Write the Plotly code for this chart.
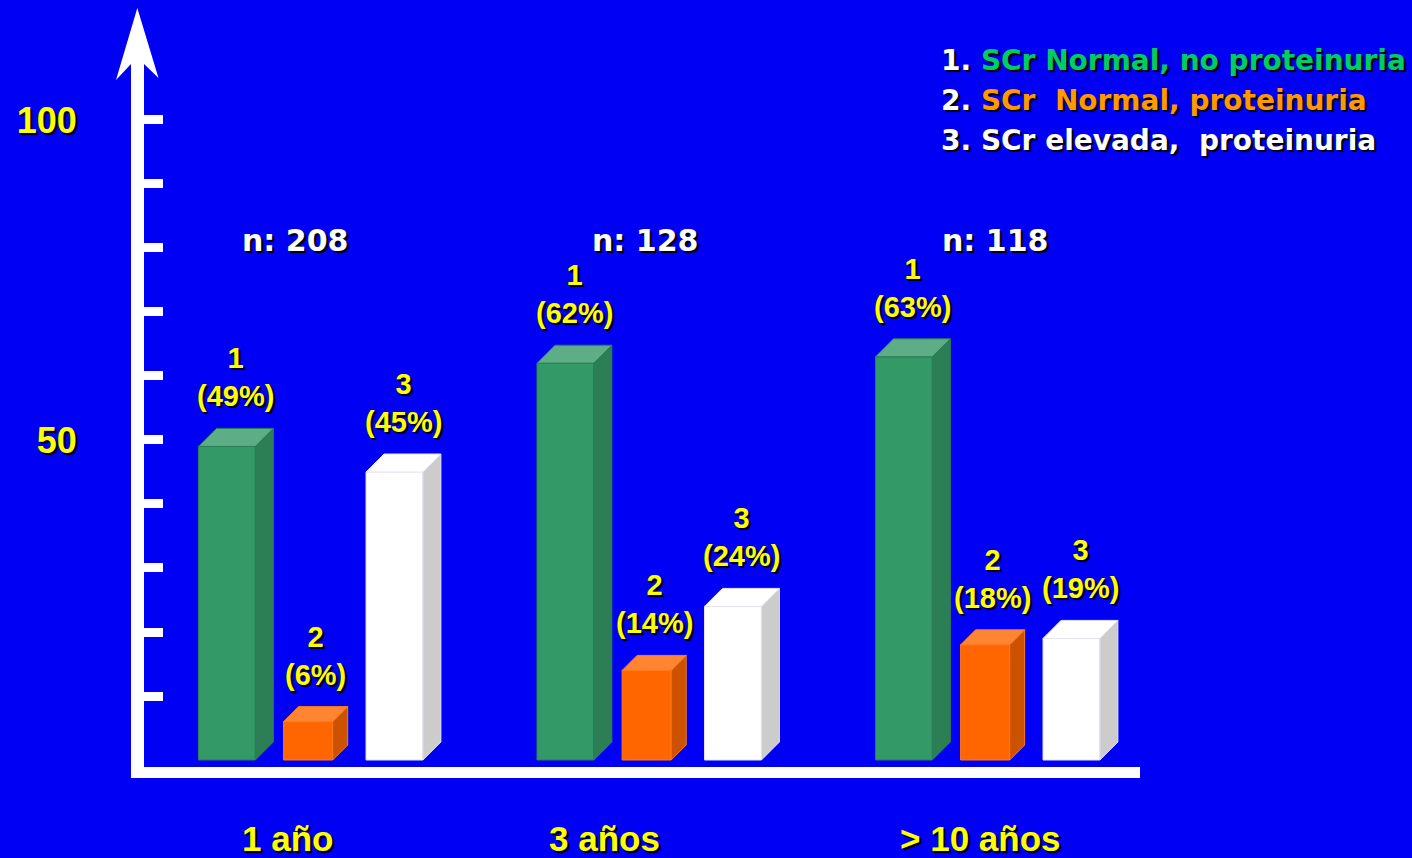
import plotly.graph_objects as go

# ---- data -------------------------------------------------------------
categories = ["1 año", "3 años", "> 10 años"]
n_labels = ["n: 208", "n: 128", "n: 118"]
series_names = [
    "SCr Normal, no proteinuria",
    "SCr  Normal, proteinuria",
    "SCr elevada,  proteinuria",
]
pct_normal_no_prot = [49, 62, 63]
pct_normal_prot = [6, 14, 18]
pct_elevated_prot = [45, 24, 19]
y_tick_vals = [10, 20, 30, 40, 50, 60, 70, 80, 90, 100]
y_tick_text = ["", "", "", "", "50", "", "", "", "", "100"]

# ---- geometry / style -------------------------------------------------
W, H = 1412, 858
M_L, M_R, M_T, M_B = 144, 272, 70, 91
X_RANGE = [0.4851, 3.4275]
Y_RANGE = [-1.094, 107.81]
PLOT_W = W - M_L - M_R
PLOT_H = H - M_T - M_B
PX_X = PLOT_W / (X_RANGE[1] - X_RANGE[0])
PX_Y = PLOT_H / (Y_RANGE[1] - Y_RANGE[0])

BG = "#0000F5"
YELLOW = "#FFFF00"
SHADOW = "2px 2px 1px #000000"
BOLD_WIDE = "DejaVu Sans"
BOLD_ARIAL = "Liberation Sans"

group_x = [1, 2, 3]
series = [
    dict(vals=pct_normal_no_prot, offset=-0.27, width=0.168, depth=18,
         front="#339966", side="#2C7E55", top="#5DAD86", edge="#2A7F52"),
    dict(vals=pct_normal_prot, offset=-0.03, width=0.145, depth=15,
         front="#FF6600", side="#CC5200", top="#FF8533", edge="#FF7A1A"),
    dict(vals=pct_elevated_prot, offset=0.225, width=0.168, depth=18,
         front="#FFFFFF", side="#CCCCCC", top="#FFFFFF", edge="#E4E4F4"),
]


def px_to_paper(px, py):
    return (px - M_L) / PLOT_W, (H - M_B - py) / PLOT_H


fig = go.Figure()
annotations = []

for k, s in enumerate(series, start=1):
    xs = [g + s["offset"] for g in group_x]
    fig.add_trace(go.Bar(
        x=xs, y=s["vals"], width=s["width"], base=0,
        marker=dict(color=s["front"], line=dict(color=s["edge"], width=1)),
        showlegend=False, hoverinfo="skip",
    ))
    dx = s["depth"] / PX_X
    dy = s["depth"] / PX_Y
    side_x, side_y, top_x, top_y = [], [], [], []
    for xc, v in zip(xs, s["vals"]):
        xl, xr = xc - s["width"] / 2, xc + s["width"] / 2
        side_x += [xr, xr + dx, xr + dx, xr, xr, None]
        side_y += [0, dy, v + dy, v, 0, None]
        top_x += [xl, xl + dx, xr + dx, xr, xl, None]
        top_y += [v, v + dy, v + dy, v, v, None]
        annotations.append(dict(
            x=xc + dx / 2, y=v + dy, xref="x", yref="y",
            text=f"{k}<br>({v}%)", showarrow=False,
            yanchor="bottom", yshift=14,
            font=dict(family=BOLD_ARIAL, size=29, color=YELLOW,
                      weight="bold", shadow=SHADOW),
        ))
    fig.add_trace(go.Scatter(
        x=side_x, y=side_y, mode="lines", fill="toself",
        fillcolor=s["side"], line=dict(color=s["edge"], width=1),
        showlegend=False, hoverinfo="skip",
    ))
    fig.add_trace(go.Scatter(
        x=top_x, y=top_y, mode="lines", fill="toself",
        fillcolor=s["top"], line=dict(color=s["edge"], width=1),
        showlegend=False, hoverinfo="skip",
    ))

# sample sizes above each group
n_dx = [-0.069, -0.035, 0.0]
n_y = px_to_paper(0, 240)[1]
for g, d, txt in zip(group_x, n_dx, n_labels):
    annotations.append(dict(
        x=g + d, y=n_y, xref="x", yref="paper", text=txt,
        showarrow=False, yanchor="middle",
        font=dict(family=BOLD_WIDE, size=30, color="#FFFFFF",
                  weight="bold", shadow=SHADOW),
    ))

# category labels under the axis
cat_dx = [-0.09, -0.155, -0.045]
cat_y = px_to_paper(0, 838)[1]
for g, d, txt in zip(group_x, cat_dx, categories):
    annotations.append(dict(
        x=g + d, y=cat_y, xref="x", yref="paper", text=txt,
        showarrow=False, yanchor="middle",
        font=dict(family=BOLD_ARIAL, size=35, color=YELLOW,
                  weight="bold", shadow=SHADOW),
    ))

# legend text, top right
legend_colors = ["#00CC66", "#FF9900", "#FFFFFF"]
for i, (name, col, py) in enumerate(zip(series_names, legend_colors, [61, 101, 141]), start=1):
    lx, ly = px_to_paper(939, py)
    annotations.append(dict(
        x=lx, y=ly, xref="paper", yref="paper", xanchor="left", yanchor="middle",
        text=f"{i}. <span style='color:{col}'>{name}</span>",
        showarrow=False,
        font=dict(family=BOLD_WIDE, size=28, color="#FFFFFF",
                  weight="bold", shadow=SHADOW),
    ))

# arrowhead on top of the vertical axis
arrow_px = [(137.3, 8), (158.5, 78), (144, 64), (144, 92), (131, 92), (131, 64), (116, 80)]
arrow_pts = [px_to_paper(x, y) for x, y in arrow_px]
arrow_path = "M " + " L ".join(f"{x:.5f},{y:.5f}" for x, y in arrow_pts) + " Z"

fig.update_layout(
    width=W, height=H,
    margin=dict(l=M_L, r=M_R, t=M_T, b=M_B, pad=0),
    paper_bgcolor=BG, plot_bgcolor=BG,
    barmode="overlay",
    showlegend=False,
    annotations=annotations,
    shapes=[dict(type="path", path=arrow_path, xref="paper", yref="paper",
                 fillcolor="#FFFFFF", line=dict(width=0), layer="above")],
    xaxis=dict(range=X_RANGE, showgrid=False, zeroline=False,
               showline=True, linewidth=11, linecolor="#FFFFFF",
               showticklabels=False, ticks=""),
    yaxis=dict(range=Y_RANGE, showgrid=False, zeroline=False,
               showline=True, linewidth=13, linecolor="#FFFFFF",
               ticks="inside", ticklen=19, tickwidth=9, tickcolor="#FFFFFF",
               tickvals=y_tick_vals, ticktext=y_tick_text,
               ticklabelstandoff=47,
               tickfont=dict(family=BOLD_ARIAL, size=36, color=YELLOW,
                             weight="bold", shadow=SHADOW)),
)

fig.write_html("out.html")
